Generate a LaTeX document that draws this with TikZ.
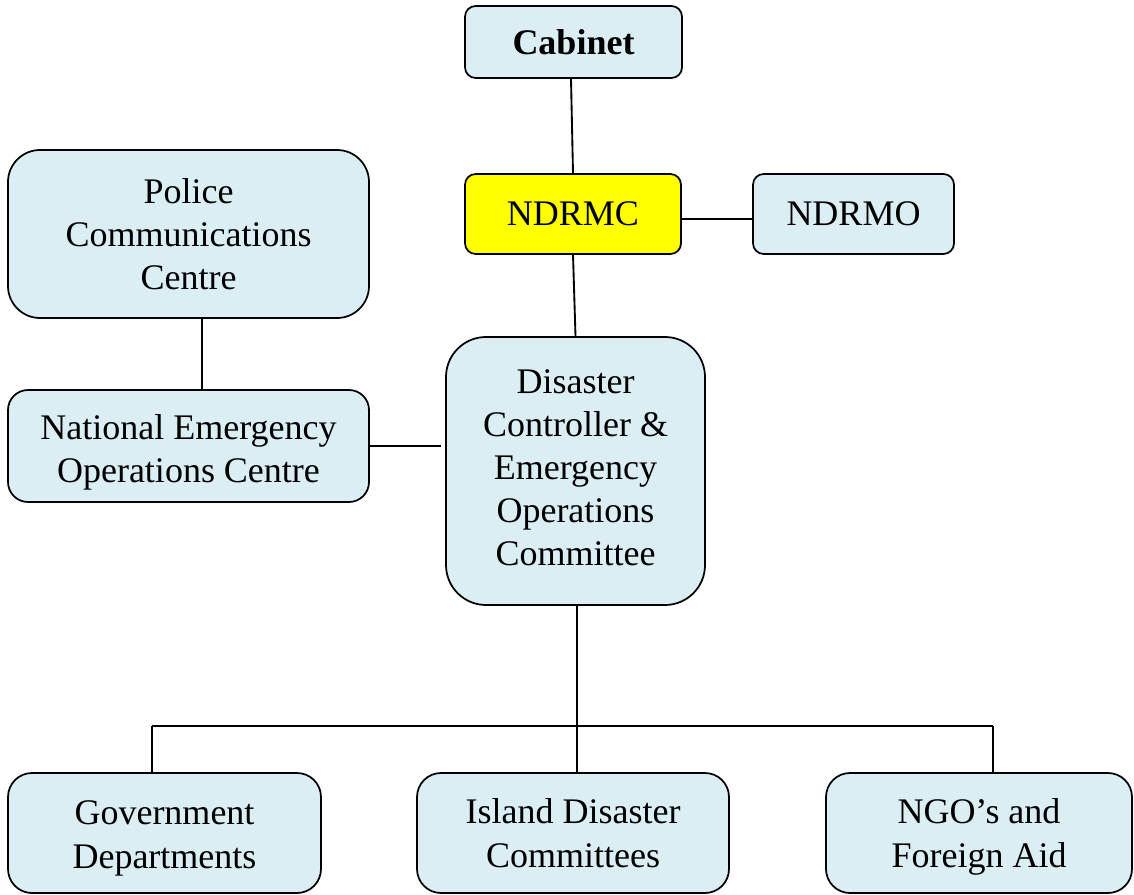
\documentclass[tikz,border=0pt]{standalone}
\usepackage{fontspec}
\setmainfont{Liberation Serif}
\definecolor{boxblue}{RGB}{218,238,243}
\definecolor{boxyellow}{RGB}{255,255,0}
\newcommand{\lowertext}[2]{\raisebox{-#1}[\height][\depth]{\begin{tabular}{@{}c@{}}#2\end{tabular}}}
\tikzset{
  orgbox/.style={draw=black, line width=1.3pt, fill=boxblue, align=center,
    font=\fontsize{27}{32.25}\selectfont, inner sep=0pt, text=black},
  link/.style={line width=1.4pt, draw=black}
}
\begin{document}
\begin{tikzpicture}[x=0.75pt,y=-0.75pt]
\useasboundingbox (0,0) rectangle (1134,895);
\node[orgbox, minimum width=162.75pt, minimum height=54pt, rounded corners=8pt, font=\fontsize{27}{32.25}\selectfont\bfseries] (cab) at (573.5,42) {Cabinet};
\node[orgbox, fill=boxyellow, minimum width=162pt, minimum height=60pt, rounded corners=8pt] (ndrmc) at (573,214) {NDRMC};
\node[orgbox, minimum width=150.75pt, minimum height=60pt, rounded corners=8pt] (ndrmo) at (853.5,214) {NDRMO};
\node[orgbox, minimum width=270.75pt, minimum height=126pt, rounded corners=24pt] (pol) at (188.5,234) {Police\\Communications\\Centre};
\node[orgbox, minimum width=270.75pt, minimum height=84pt, rounded corners=15pt] (nat) at (188.5,446) {\lowertext{4.5pt}{National Emergency\\Operations Centre}};
\node[orgbox, minimum width=194.25pt, minimum height=201pt, rounded corners=30pt] (dis) at (575.5,471) {\lowertext{0.2pt}{Disaster\\Controller \&\\Emergency\\Operations\\Committee}};
\node[orgbox, minimum width=234.75pt, minimum height=90pt, rounded corners=18pt, font=\fontsize{27}{33}\selectfont] (gov) at (164.5,833) {\lowertext{3.75pt}{Government\\Departments}};
\node[orgbox, minimum width=234pt, minimum height=90pt, rounded corners=18pt, font=\fontsize{27}{33}\selectfont] (isl) at (573,833) {Island Disaster\\Committees};
\node[orgbox, minimum width=229.5pt, minimum height=90pt, rounded corners=18pt, font=\fontsize{27}{33}\selectfont] (ngo) at (979,833) {\lowertext{3pt}{NGO’s and\\Foreign Aid}};
\coordinate (busL) at (152,726);
\coordinate (busR) at (993,726);
\coordinate (dsx) at (577,0);
\coordinate (psx) at (202,0);
\coordinate (csx) at (571,0);
\coordinate (hy) at (0,219);
\draw[link] (csx |- cab.south) -- (ndrmc.north);
\draw[link] (ndrmc.south) -- (dis.north);
\draw[link] (ndrmc.east |- hy) -- (ndrmo.west |- hy);
\draw[link] (psx |- pol.south) -- (psx |- nat.north);
\draw[link, shorten >=3pt] (nat.east) -- (nat.east -| dis.west);
\draw[link] (dsx |- dis.south) -- (dsx |- isl.north);
\draw[link] (busL) -- (busR);
\draw[link] (busL) -- (busL |- gov.north);
\draw[link] (busR) -- (busR |- ngo.north);
\end{tikzpicture}
\end{document}
